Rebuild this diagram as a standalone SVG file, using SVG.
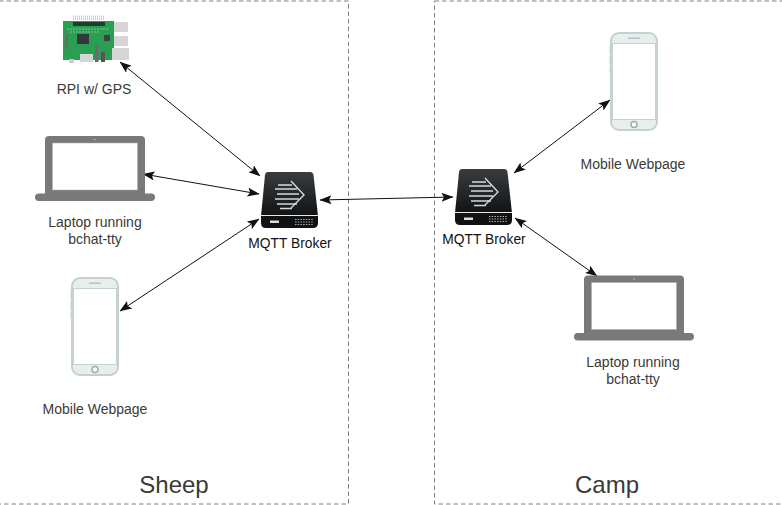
<svg xmlns="http://www.w3.org/2000/svg" width="782" height="505" viewBox="0 0 782 505">
<style>
text{font-family:"Liberation Sans",Arial,sans-serif;fill:#3a3a36;text-anchor:middle}
.l{font-size:14px}
.t{font-size:24px}
.b{font-size:13.8px;fill:#111}
.box{fill:#fff;stroke:#808080;stroke-width:1;stroke-dasharray:4.500 3}
.c{fill:none;stroke:#111;stroke-width:1;marker-start:url(#a);marker-end:url(#a)}
</style>
<defs>
<marker id="a" viewBox="0 0 12 9" refX="11.500" refY="4.500" markerWidth="12" markerHeight="9" markerUnits="userSpaceOnUse" orient="auto-start-reverse"><path d="M0 0L12 4.500L0 9L2.500 4.500Z" fill="#111"/></marker>
<linearGradient id="g" x1="0" y1="0" x2="0" y2="1"><stop offset="0" stop-color="#3a3d40"/><stop offset="1" stop-color="#101214"/></linearGradient>
<g id="phone">
<rect x="1" y="1" width="46" height="97" rx="8" fill="#e6eeee" stroke="#c5d0d0" stroke-width="2"/>
<rect x="2.500" y="11.500" width="43" height="76" fill="#fff" stroke="#c5d0d0" stroke-width="1"/>
<rect x="18" y="5.500" width="12" height="1.600" rx="0.800" fill="#b5c0c0"/>
<circle cx="24" cy="92.500" r="3" fill="#fff" stroke="#9fabab" stroke-width="1.500"/>
<path d="M0 14V22M0 25V33M0 35V41" stroke="#c5d0d0" stroke-width="1" fill="none"/>
</g>
<g id="laptop">
<path d="M14 0H106Q110 0 110 4V64H14Q10 64 10 60V4Q10 0 14 0Z" fill="#77797b"/>
<rect x="17.500" y="7" width="85" height="47" fill="#fff" stroke="#aaa" stroke-width="0.500"/>
<rect x="0" y="57.500" width="120" height="7.500" rx="3.700" fill="#77797b"/>
<circle cx="60" cy="3.500" r="0.800" fill="#bbb"/>
</g>
<g id="server">
<path d="M7 0H49Q52 0 52.500 3L57 44H0L4 3Q4.500 0 7 0Z" fill="url(#g)"/>
<path d="M0 44H57V51Q57 56 52 56H5Q0 56 0 51Z" fill="#0f1113"/>
<path d="M0 43.500H57" stroke="#e8e8e8" stroke-width="1" fill="none"/>
<path d="M17 13H31M14 17H36M16 22H38M14 27H38M16 32H36M19 36.500H31" stroke="#d8d8d8" stroke-width="1.400" fill="none"/>
<path d="M30 9L43 23L30 36" stroke="#d8d8d8" stroke-width="1.400" fill="none"/>
<rect x="9" y="48.500" width="9" height="2.500" fill="#ddd"/>
<path d="M34 47.500H52M34 50H52M34 52.500H52" stroke="#aaa" stroke-width="1.200" stroke-dasharray="1.500 1.200" fill="none"/>
</g>
</defs>
<rect class="box" x="-1" y="1" width="349.500" height="503"/>
<rect class="box" x="434.500" y="1" width="349" height="503"/>
<g id="connectors">
<path class="c" d="M120 62L260 176"/>
<path class="c" d="M143 174L259 194"/>
<path class="c" d="M120 311L259 219"/>
<path class="c" d="M320 200L453 197"/>
<path class="c" d="M514 173L610 100"/>
<path class="c" d="M515 218L597 276"/>
</g>
<g id="rpi">
<rect x="63" y="21" width="51" height="39" fill="#2a9e52"/>
<path d="M73 16.500H105M73 19H105" stroke="#c9c9c9" stroke-width="2" stroke-dasharray="1 1" fill="none"/>
<rect x="73" y="22" width="32" height="4" fill="#1a4026"/>
<path d="M67 29H108M70 32H100" stroke="#7cc48f" stroke-width="1" stroke-dasharray="2 1" fill="none"/>
<rect x="77" y="34" width="12" height="10" fill="#33393a"/>
<rect x="104" y="35" width="6" height="6" fill="#3c4242"/>
<rect x="114" y="22" width="14" height="10" fill="#d5d5d5"/>
<rect x="114" y="36" width="14" height="10" fill="#d5d5d5"/>
<rect x="112" y="48" width="17" height="12" fill="#d5d5d5"/>
<rect x="80" y="54" width="13" height="8" fill="#d5d5d5"/>
<rect x="95" y="45" width="3.500" height="17" fill="#6b6b6b"/>
<rect x="101" y="52" width="4" height="10" fill="#555"/>
<rect x="65" y="34" width="3" height="15" fill="#6b6b6b"/>
<rect x="69" y="59" width="5" height="4" fill="#ccc"/>
<text class="l" x="94" y="94">RPI w/ GPS</text>
</g>
<g id="laptop1"><use href="#laptop" x="35" y="136"/>
<text class="l" x="95" y="227">Laptop running</text><text class="l" x="95" y="244">bchat-tty</text></g>
<g id="phone1"><use href="#phone" x="71" y="277"/>
<text class="l" x="95" y="414">Mobile Webpage</text></g>
<g id="broker1"><use href="#server" x="261" y="172"/>
<text class="b" x="290" y="248">MQTT Broker</text></g>
<g id="broker2"><use href="#server" x="455" y="169"/>
<text class="b" x="484" y="244">MQTT Broker</text></g>
<g id="phone2"><use href="#phone" x="610" y="32"/>
<text class="l" x="633" y="169">Mobile Webpage</text></g>
<g id="laptop2"><use href="#laptop" x="574" y="275.500"/>
<text class="l" x="633" y="367">Laptop running</text><text class="l" x="633" y="384">bchat-tty</text></g>
<text class="t" x="174" y="493">Sheep</text>
<text class="t" x="607" y="493">Camp</text>
</svg>
